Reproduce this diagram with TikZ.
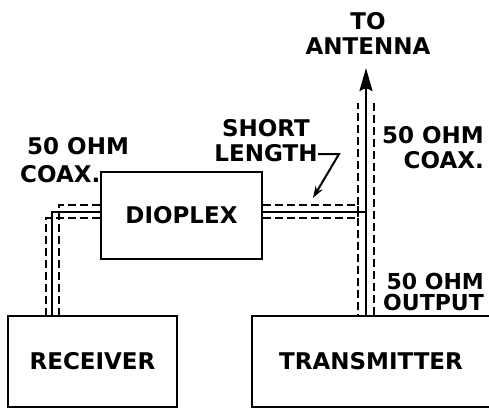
\documentclass[tikz,border=0pt]{standalone}
\usepackage{fontspec}
\setmainfont{DejaVu Sans}
\usetikzlibrary{arrows.meta}

\begin{document}
\begin{tikzpicture}[x=1pt, y=-1pt,
  unit/.style={draw, line width=2.2pt, inner sep=0pt,
    font=\fontsize{23}{25}\selectfont\bfseries},
  lbl/.style={inner sep=0pt, font=\fontsize{23}{25}\selectfont\bfseries},
  coax/.style={line width=2.6pt},
  shield/.style={line width=1.9pt, dash pattern=on 8pt off 4pt},
  feed/.style={-{Stealth[length=23pt, width=13pt, inset=3pt]}, line width=2.6pt},
  pointer/.style={-{Stealth[length=12pt, width=8pt]}, line width=2pt}
]
  \useasboundingbox (0,0) rectangle (489,408);

  % units
  \node[unit, minimum width=169pt, minimum height=91pt] (rx) at (92.5,361.5) {RECEIVER};
  \node[unit, minimum width=238pt, minimum height=91pt] (tx) at (371,361.5) {TRANSMITTER};
  \node[unit, minimum width=161pt, minimum height=87pt] (dx) at (181.5,215.5) {DIOPLEX};

  % labels
  \node[lbl, align=center] (ant) at (368,33) {TO\\ANTENNA};
  \node[lbl, align=right, anchor=east] (coaxR) at (484,148) {50 OHM\\COAX.};
  \node[lbl, align=right, anchor=east, font=\fontsize{22}{21}\selectfont\bfseries] (out) at (484,292) {50 OHM\\OUTPUT};
  \node[lbl, align=left, anchor=west] (coaxL) at (20,160) {\hspace*{7pt}50 OHM\\[3pt]COAX.};
  \node[lbl, align=center] (short) at (266,141) {SHORT\\LENGTH};

  % corner points
  \coordinate (rxC) at (52,316);  \coordinate (rxA) at (46,316);  \coordinate (rxB) at (59,316);
  \coordinate (txC) at (366,316); \coordinate (txA) at (358,316); \coordinate (txB) at (374,316);
  \coordinate (top) at (366,68);
  \coordinate (tA) at (358,103);  \coordinate (tB) at (374,103);
  \coordinate (jn) at (366,212);
  \coordinate (p1) at (318,154);  \coordinate (p2) at (339,154);  \coordinate (p3) at (313,198);

  % receiver coax
  \draw[coax] (dx.west |- jn) -| (rxC);
  \draw[shield] ([yshift=-6pt]dx.west |- jn) -| (rxA);
  \draw[shield] ([yshift=7pt]dx.west |- jn) -| (rxB);

  % short length and antenna feed
  \draw[coax] (dx.east |- jn) -- (jn);
  \draw[feed] (txC) -- (top);
  \draw[shield] ([yshift=-6pt]dx.east |- jn) -| (tA);
  \draw[shield] ([yshift=7pt]dx.east |- jn) -| (txA);
  \draw[shield] (tB) -- (txB);

  % pointer
  \draw[pointer] (p1) -- (p2) -- (p3);
\end{tikzpicture}
\end{document}
